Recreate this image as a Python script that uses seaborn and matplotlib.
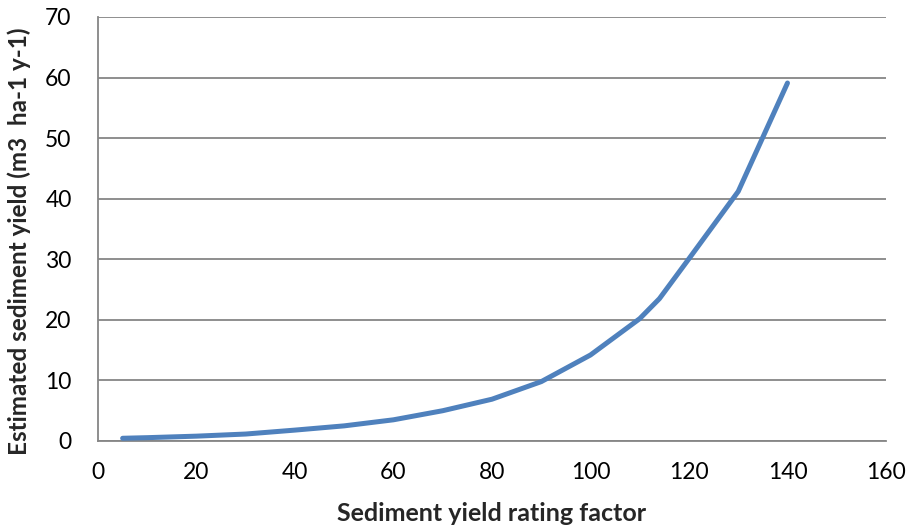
import matplotlib
matplotlib.use("Agg")
import matplotlib.pyplot as plt
import seaborn as sns
import pandas as pd

# Sediment yield rating factor vs. estimated sediment yield
rating_factor = [5, 10, 20, 30, 40, 50, 60, 70, 80, 90, 100, 110, 114, 120, 130, 140]
sediment_yield = [0.45, 0.55, 0.8, 1.15, 1.8, 2.5, 3.5, 5.0, 6.9, 9.8, 14.2, 20.2, 23.5, 30.1, 41.2, 59.1]

x_ticks = [0, 20, 40, 60, 80, 100, 120, 140, 160]
y_ticks = [0, 10, 20, 30, 40, 50, 60, 70]

df = pd.DataFrame({"factor": rating_factor, "yield": sediment_yield})

sns.set_style("white")
plt.rcParams["font.family"] = ["Lato", "DejaVu Sans"]

grey = "#868686"
fig = plt.figure(figsize=(9.1, 5.31), dpi=100)
ax = fig.add_axes([0.1077, 0.1695, 0.8659, 0.7985])

sns.lineplot(data=df, x="factor", y="yield", ax=ax, color="#4F81BD",
             linewidth=3.6, solid_capstyle="round", solid_joinstyle="round", zorder=3)

ax.set_xlim(0, 160)
ax.set_ylim(0, 70)
ax.set_xticks(x_ticks)
ax.set_yticks(y_ticks)
ax.yaxis.grid(True, color=grey, linewidth=1.3)
ax.xaxis.grid(False)

for side in ("top", "right"):
    ax.spines[side].set_visible(False)
for side in ("left", "bottom"):
    ax.spines[side].set_color(grey)
    ax.spines[side].set_linewidth(1.3)

ax.tick_params(axis="both", direction="out", length=6, width=1.3, color=grey,
               labelsize=16.5, labelcolor="black")
ax.tick_params(axis="x", pad=9)
ax.tick_params(axis="y", pad=13)

ax.set_xlabel("Sediment yield rating factor", fontsize=18, fontweight="bold", labelpad=14)
ax.set_ylabel("Estimated sediment yield (m3  ha-1 y-1)", fontsize=17.5, fontweight="bold")
ax.yaxis.set_label_coords(-0.085, 0.47)

fig.savefig("out.png", dpi=100)
